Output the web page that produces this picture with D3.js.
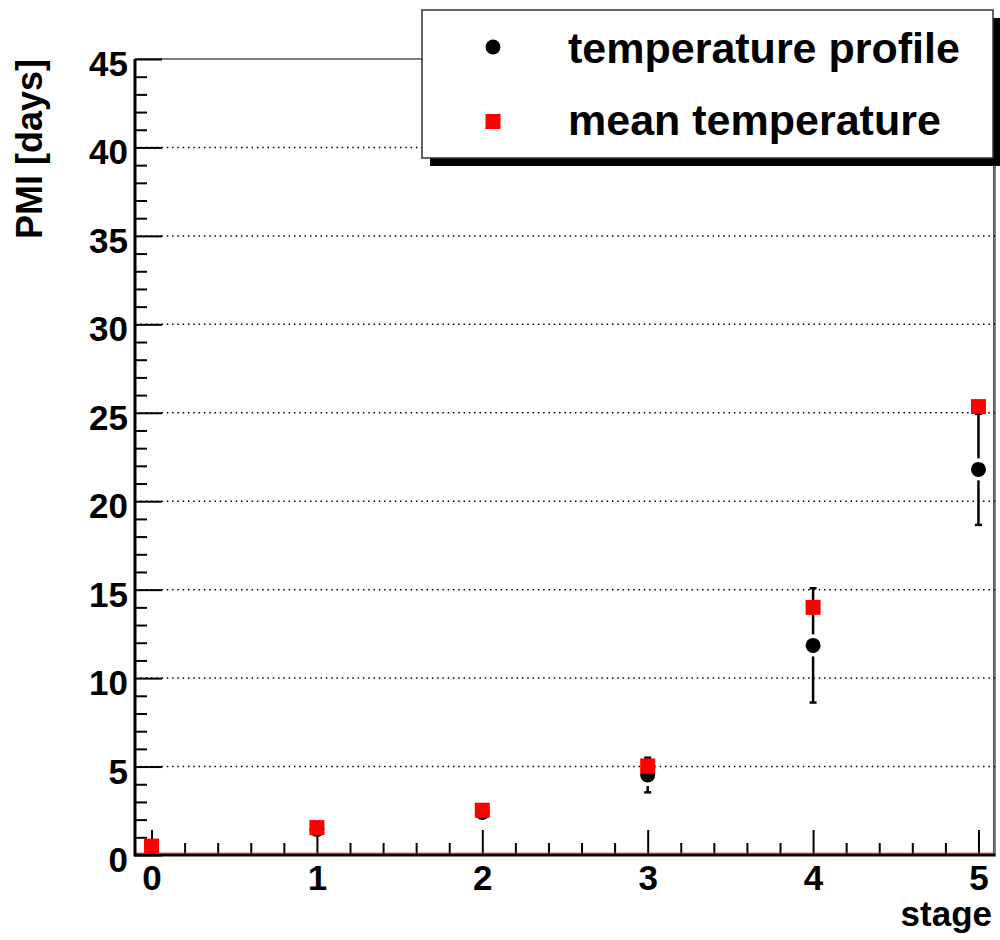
<!DOCTYPE html>
<html>
<head>
<meta charset="utf-8">
<script src="https://cdn.jsdelivr.net/npm/d3@7"></script>
<style>
  body { margin: 0; background: white; }
  text { font-family: "Liberation Sans", Arial, Helvetica, sans-serif; font-weight: bold; }
</style>
</head>
<body>
<script>
'use strict'

let stages = [0, 1, 2, 3, 4, 5]
let profile = [0.45, 1.45, 2.4, 4.52, 11.85, 21.8]
let profileErr = [0.1, 0.15, 0.25, 0.98, 3.23, 3.14]
let meanTemp = [0.5, 1.55, 2.53, 5.03, 14.0, 25.35]
let yMajor = [0, 5, 10, 15, 20, 25, 30, 35, 40, 45]
let legendLabels = ['temperature profile', 'mean temperature']

let width = 1000,
    height = 940,
    frameLeft = 135, frameRight = 995, frameTop = 59, frameBottom = 855

let svg = d3.select('body').append('svg')
    .attr('width', width)
    .attr('height', height)

let x = d3.scaleLinear().domain([-0.1, 5.1]).range([frameLeft, frameRight])
let y = d3.scaleLinear().domain([0, 45]).range([frameBottom, frameTop])

// dotted grid
svg.append('g').selectAll('line').data(yMajor.filter(d => d > 0 && d < 45)).enter()
    .append('line')
    .attr('x1', frameLeft).attr('x2', frameRight)
    .attr('y1', d => y(d)).attr('y2', d => y(d))
    .attr('stroke', 'black')
    .attr('stroke-width', 1.5)
    .attr('stroke-dasharray', '1.5,3.8')

// minor ticks
let yMinor = d3.range(0, 46).filter(d => d % 5 != 0)
svg.append('g')
    .attr('transform', 'translate(' + frameLeft + ',0)')
    .call(d3.axisLeft(y).tickValues(yMinor).tickSize(-12).tickFormat(''))
    .call(g => g.select('.domain').remove())
    .selectAll('line').attr('stroke-width', 2)

let xMinor = d3.range(1, 26).map(d => d * 0.2).filter(d => Math.abs(d - Math.round(d)) > 0.01)
svg.append('g')
    .attr('transform', 'translate(0,' + frameBottom + ')')
    .call(d3.axisBottom(x).tickValues(xMinor).tickSize(-12).tickFormat(''))
    .call(g => g.select('.domain').remove())
    .selectAll('line').attr('stroke-width', 2)

// major ticks with labels
let yAxis = svg.append('g')
    .attr('transform', 'translate(' + frameLeft + ',0)')
    .call(d3.axisLeft(y).tickValues(yMajor).tickSize(-27).tickPadding(7).tickFormat(d3.format('d')))
yAxis.select('.domain').remove()
yAxis.selectAll('line').attr('stroke-width', 2)
yAxis.selectAll('text')
    .attr('font-size', 35)
    .attr('dy', '0.47em')
    .attr('fill', 'black')

let xAxis = svg.append('g')
    .attr('transform', 'translate(0,' + frameBottom + ')')
    .call(d3.axisBottom(x).tickValues(stages).tickSize(-25).tickPadding(10).tickFormat(d3.format('d')))
xAxis.select('.domain').remove()
xAxis.selectAll('line').attr('stroke-width', 2)
xAxis.selectAll('text')
    .attr('font-size', 35)
    .attr('fill', 'black')

// frame
svg.append('line')
    .attr('x1', frameLeft).attr('x2', frameRight - 2)
    .attr('y1', frameBottom - 2).attr('y2', frameBottom - 2)
    .attr('stroke', '#e33').attr('stroke-width', 0.8)
svg.append('line')
    .attr('x1', frameRight - 1.5).attr('x2', frameRight - 1.5)
    .attr('y1', frameTop).attr('y2', frameBottom)
    .attr('stroke', 'red').attr('stroke-width', 1)
svg.append('line')
    .attr('x1', frameRight).attr('x2', frameRight)
    .attr('y1', frameTop).attr('y2', frameBottom)
    .attr('stroke', 'black').attr('stroke-width', 1)
svg.append('line')
    .attr('x1', frameLeft).attr('x2', frameRight)
    .attr('y1', frameTop).attr('y2', frameTop)
    .attr('stroke', 'black').attr('stroke-width', 1.2)
svg.append('line')
    .attr('x1', frameLeft).attr('x2', frameRight + 0.5)
    .attr('y1', frameBottom).attr('y2', frameBottom)
    .attr('stroke', 'black').attr('stroke-width', 3)
svg.append('line')
    .attr('x1', frameLeft).attr('x2', frameLeft)
    .attr('y1', frameTop).attr('y2', frameBottom + 1.5)
    .attr('stroke', 'black').attr('stroke-width', 3)

// error bars (gap around the marker, like ROOT)
let gap = 11, cap = 3.5
let errG = svg.append('g').attr('stroke', 'black').attr('stroke-width', 2.5)
stages.forEach((s, i) => {
    let cx = x(s),
        cy = y(profile[i]),
        yTop = y(profile[i] + profileErr[i]),
        yBot = y(profile[i] - profileErr[i])
    if (cy - yTop > gap) {
        errG.append('line').attr('x1', cx).attr('x2', cx).attr('y1', yTop).attr('y2', cy - gap)
        errG.append('line').attr('x1', cx - cap).attr('x2', cx + cap).attr('y1', yTop).attr('y2', yTop)
    }
    if (yBot - cy > gap) {
        errG.append('line').attr('x1', cx).attr('x2', cx).attr('y1', cy + gap).attr('y2', yBot)
        errG.append('line').attr('x1', cx - cap).attr('x2', cx + cap).attr('y1', yBot).attr('y2', yBot)
    }
})

svg.append('g').selectAll('circle').data(stages).enter()
    .append('circle')
    .attr('cx', d => x(d))
    .attr('cy', (d, i) => y(profile[i]))
    .attr('r', 7.5)
    .attr('fill', 'black')

svg.append('g').selectAll('rect').data(stages).enter()
    .append('rect')
    .attr('x', d => x(d) - 7.5)
    .attr('y', (d, i) => y(meanTemp[i]) - 7.5)
    .attr('width', 15)
    .attr('height', 15)
    .attr('fill', 'red')

// axis titles
svg.append('text')
    .attr('transform', 'translate(42,' + frameTop + ') rotate(-90)')
    .attr('text-anchor', 'end')
    .attr('font-size', 36)
    .text('PMI [days]')

svg.append('text')
    .attr('x', 992)
    .attr('y', 926)
    .attr('text-anchor', 'end')
    .attr('font-size', 35)
    .text('stage')

// legend
let legend = svg.append('g')
legend.append('rect')
    .attr('x', 430).attr('y', 18)
    .attr('width', 571).attr('height', 148)
    .attr('fill', 'black')
legend.append('rect')
    .attr('x', 422).attr('y', 10)
    .attr('width', 571).attr('height', 148)
    .attr('fill', 'white')
    .attr('stroke', '#333')
    .attr('stroke-width', 1.5)

legend.append('circle')
    .attr('cx', 493).attr('cy', 47)
    .attr('r', 7.5)
    .attr('fill', 'black')
legend.append('rect')
    .attr('x', 485.5).attr('y', 114)
    .attr('width', 15).attr('height', 15)
    .attr('fill', 'red')

legend.selectAll('.leg').data(legendLabels).enter()
    .append('text')
    .attr('class', 'leg')
    .attr('x', 568)
    .attr('y', (d, i) => 63 + i * 72)
    .attr('font-size', 43)
    .text(d => d)
</script>
</body>
</html>
